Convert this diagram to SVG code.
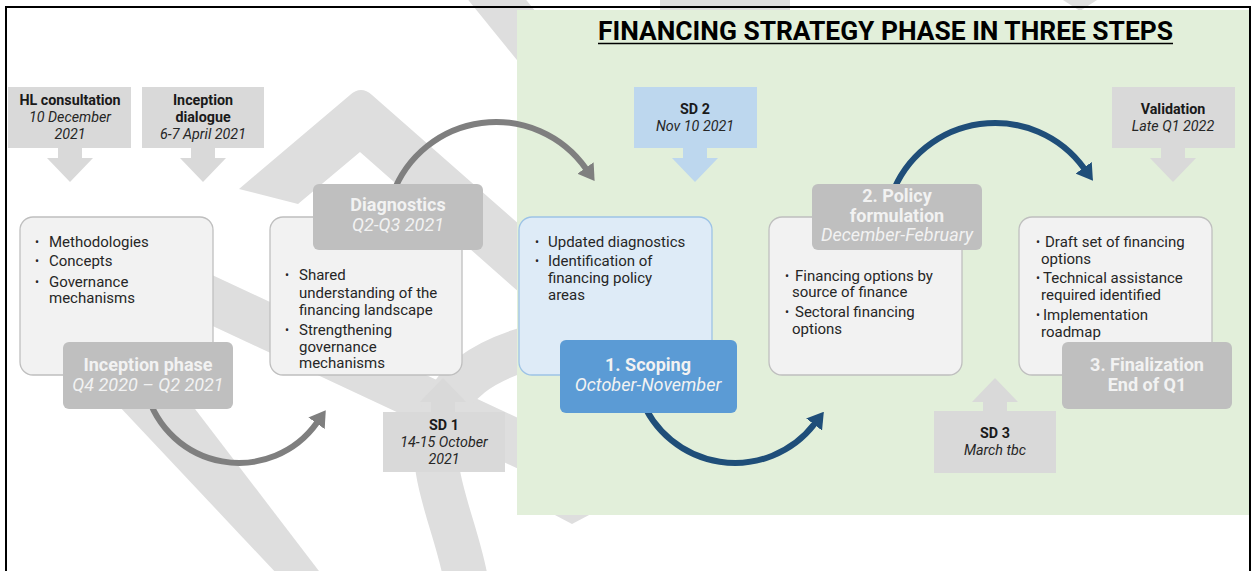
<svg xmlns="http://www.w3.org/2000/svg" width="1257" height="571" viewBox="0 0 1257 571">
<defs>
<style>
text { font-family: Roboto, "Liberation Sans", Arial, sans-serif; }
.wm { fill: none; stroke: #dedede; }
.wmf { fill: #dedede; }
.info { fill: #d9d9d9; }
.sd2 { fill: #bdd7ee; }
.tb { font-size: 14.3px; font-weight: bold; fill: #1a1a1a; text-anchor: middle; }
.ti { font-size: 14.3px; font-style: italic; fill: #262626; text-anchor: middle; }
.box { fill: #f2f2f2; stroke: #bfbfbf; stroke-width: 1.3; }
.lbl { fill: #bfbfbf; }
.lb { font-size: 18px; font-weight: bold; fill: #f2f2f2; text-anchor: middle; }
.li { font-size: 18px; font-style: italic; fill: #f2f2f2; text-anchor: middle; }
.bt { font-size: 15px; fill: #262626; }
.bu { font-size: 12px; fill: #262626; }
.arrg { fill: none; stroke: #7f7f7f; stroke-width: 6; }
.arrb { fill: none; stroke: #1f4e79; stroke-width: 6; }
</style>
<marker id="mg" viewBox="0 0 16 20" refX="1" refY="10" markerWidth="16" markerHeight="20" markerUnits="userSpaceOnUse" orient="auto"><path d="M0,0 L16,10 L0,20 z" fill="#7f7f7f"/></marker>
<marker id="mb" viewBox="0 0 16 20" refX="1" refY="10" markerWidth="16" markerHeight="20" markerUnits="userSpaceOnUse" orient="auto"><path d="M0,0 L16,10 L0,20 z" fill="#1f4e79"/></marker>
</defs>
<rect x="0" y="0" width="1257" height="571" fill="#ffffff"/>
<g id="watermark">
<line class="wm" x1="464" y1="-41" x2="580" y2="102" stroke-width="45"/>
<path class="wmf" d="M239,189 L350,95 Q361,85 372,95 L545,247 L545,315 L360,152 L298,204 Z"/>
<line class="wm" x1="100" y1="248" x2="560" y2="463" stroke-width="46"/>
<path class="wm" d="M466,580 C455,520 425,470 440,420 C450,385 480,360 540,345" stroke-width="44"/>
<polygon class="wmf" points="118,405 192,405 322,575 278,575"/>
<rect class="wmf" x="660" y="0" width="130" height="12"/>
<polygon class="wmf" points="1063,0 1097,0 1080,11"/>
<polygon class="wmf" points="553,514 591,514 572,524"/>
</g>
<rect id="green-panel" x="517" y="10" width="732" height="505" fill="#e2efda"/>
<rect id="frame" x="6" y="7" width="1244" height="620" fill="none" stroke="#000" stroke-width="2"/>
<g id="title">
<text x="885.5" y="39.5" font-size="25" font-weight="bold" fill="#000" text-anchor="middle" textLength="575" lengthAdjust="spacingAndGlyphs">FINANCING STRATEGY PHASE IN THREE STEPS</text>
<line x1="598" y1="43.5" x2="1173" y2="43.5" stroke="#000" stroke-width="1.6"/>
</g>
<g id="connectors">
<path class="arrg" d="M146.7,392 A95.6,95.6 0 0 0 317.1,422.5" marker-end="url(#mg)"/>
<path class="arrg" d="M392.6,194.4 A110,110 0 0 1 586,168.8" marker-end="url(#mg)"/>
<path class="arrb" d="M640.6,396.9 A100.5,100.5 0 0 0 814.7,423.7" marker-end="url(#mb)"/>
<path class="arrb" d="M891.6,195.4 A110,110 0 0 1 1084.2,168.6" marker-end="url(#mb)"/>
</g>
<g id="hl-consultation">
<rect class="info" x="8" y="87" width="123" height="61"/>
<polygon class="info" points="58,148 82,148 82,158 93,158 70,182 47,158 58,158"/>
<text class="tb" x="70" y="105">HL consultation</text>
<text class="ti" x="70" y="122">10 December</text>
<text class="ti" x="70" y="139">2021</text>
</g>
<g id="inception-dialogue">
<rect class="info" x="142" y="87" width="122" height="61"/>
<polygon class="info" points="191,148 215,148 215,158 226,158 203,182 180,158 191,158"/>
<text class="tb" x="203" y="105">Inception</text>
<text class="tb" x="203" y="122">dialogue</text>
<text class="ti" x="203" y="139">6-7 April 2021</text>
</g>
<g id="inception-phase">
<rect class="box" x="20" y="217" width="193" height="158" rx="13"/>
<text class="bu" x="35" y="246">•</text><text class="bt" x="49" y="247">Methodologies</text>
<text class="bu" x="35" y="265">•</text><text class="bt" x="49" y="266">Concepts</text>
<text class="bu" x="35" y="286">•</text><text class="bt" x="49" y="287">Governance</text>
<text class="bt" x="49" y="303">mechanisms</text>
<rect class="lbl" x="63" y="342" width="170" height="67" rx="6"/>
<text class="lb" x="148" y="371">Inception phase</text>
<text class="li" x="148" y="391">Q4 2020 – Q2 2021</text>
</g>
<g id="diagnostics">
<rect class="box" x="270" y="217" width="192" height="158" rx="13"/>
<text class="bu" x="285" y="279">•</text><text class="bt" x="299" y="280">Shared</text>
<text class="bt" x="299" y="298">understanding of the</text>
<text class="bt" x="299" y="315">financing landscape</text>
<text class="bu" x="285" y="334">•</text><text class="bt" x="299" y="335">Strengthening</text>
<text class="bt" x="299" y="352">governance</text>
<text class="bt" x="299" y="368">mechanisms</text>
<rect class="lbl" x="313" y="184" width="170" height="66" rx="6"/>
<text class="lb" x="398" y="211">Diagnostics</text>
<text class="li" x="398" y="231">Q2-Q3 2021</text>
</g>
<g id="sd1">
<rect class="info" x="383" y="412" width="122" height="60"/>
<polygon class="info" points="431,412 455,412 455,402 466,402 443,378 420,402 431,402"/>
<text class="tb" x="444" y="430">SD 1</text>
<text class="ti" x="444" y="447">14-15 October</text>
<text class="ti" x="444" y="464">2021</text>
</g>
<g id="sd2">
<rect class="sd2" x="634" y="87" width="123" height="61"/>
<polygon class="sd2" points="683,148 707,148 707,158 718,158 695,182 672,158 683,158"/>
<text class="tb" x="695" y="114">SD 2</text>
<text class="ti" x="695" y="131">Nov 10 2021</text>
</g>
<g id="scoping">
<rect x="519" y="217" width="193" height="158" rx="13" fill="#deebf7" stroke="#9dc3e6" stroke-width="1.3"/>
<text class="bu" x="535" y="246">•</text><text class="bt" x="548" y="247">Updated diagnostics</text>
<text class="bu" x="535" y="265">•</text><text class="bt" x="548" y="266">Identification of</text>
<text class="bt" x="548" y="283">financing policy</text>
<text class="bt" x="548" y="300">areas</text>
<rect x="560" y="340" width="177" height="73" rx="6" fill="#5b9bd5"/>
<text class="lb" x="648" y="371" fill="#ffffff">1. Scoping</text>
<text class="li" x="648" y="391">October-November</text>
</g>
<g id="policy-formulation">
<rect class="box" x="769" y="217" width="193" height="158" rx="13"/>
<text class="bu" x="785" y="280">•</text><text class="bt" x="795" y="281">Financing options by</text>
<text class="bt" x="792" y="297">source of finance</text>
<text class="bu" x="785" y="316">•</text><text class="bt" x="795" y="317">Sectoral financing</text>
<text class="bt" x="792" y="334">options</text>
<rect class="lbl" x="812" y="184" width="170" height="66" rx="6"/>
<text class="lb" x="897" y="202" font-size="17.5">2. Policy</text>
<text class="lb" x="897" y="222" font-size="17.5">formulation</text>
<text class="li" x="897" y="241">December-February</text>
</g>
<g id="validation">
<rect class="info" x="1112" y="87" width="123" height="61"/>
<polygon class="info" points="1161,148 1185,148 1185,158 1196,158 1173,182 1150,158 1161,158"/>
<text class="tb" x="1173" y="114">Validation</text>
<text class="ti" x="1173" y="131">Late Q1 2022</text>
</g>
<g id="finalization">
<rect class="box" x="1019" y="217" width="193" height="158" rx="13"/>
<text class="bu" x="1036" y="246">•</text><text class="bt" x="1045" y="247">Draft set of financing</text>
<text class="bt" x="1041" y="264">options</text>
<text class="bu" x="1036" y="282">•</text><text class="bt" x="1043" y="283">Technical assistance</text>
<text class="bt" x="1041" y="300">required identified</text>
<text class="bu" x="1036" y="319">•</text><text class="bt" x="1043" y="320">Implementation</text>
<text class="bt" x="1041" y="337">roadmap</text>
<rect class="lbl" x="1062" y="342" width="170" height="67" rx="6"/>
<text class="lb" x="1147" y="371">3. Finalization</text>
<text class="lb" x="1147" y="391">End of Q1</text>
</g>
<g id="sd3">
<rect class="info" x="934" y="411" width="122" height="62"/>
<polygon class="info" points="983,411 1007,411 1007,402 1018,402 995,378 972,402 983,402"/>
<text class="tb" x="995" y="438">SD 3</text>
<text class="ti" x="995" y="455">March tbc</text>
</g>
</svg>
